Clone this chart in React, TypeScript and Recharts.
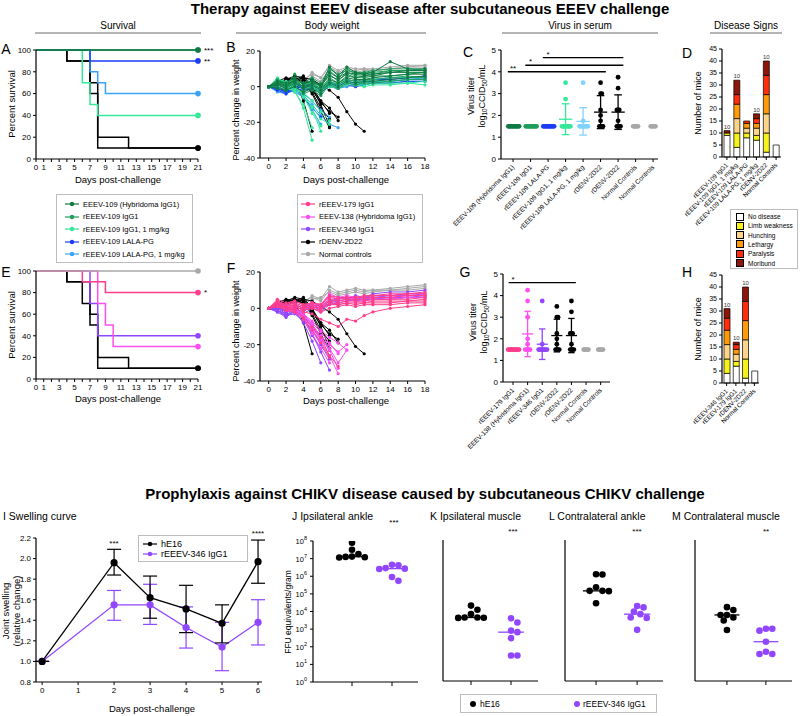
import React from 'react';
import {
  LineChart,
  Line,
  XAxis,
  YAxis,
  ScatterChart,
  Scatter,
  BarChart,
  Bar,
  ReferenceLine,
  ReferenceDot,
  ErrorBar,
  LabelList,
} from 'recharts';

const FONT = '"Liberation Sans", Arial, Helvetica, sans-serif';

const COL = {
  hyb: '#0f7a43',
  r109: '#1f9c5b',
  mint: '#35e89a',
  blue: '#1b3cf2',
  lblue: '#3aa3f5',
  sky: '#80d2ff',
  black: '#000000',
  gray: '#a8a8a8',
  pink: '#ff3d8b',
  mag: '#ff4ff0',
  purple: '#9146ff',
};

// ---------- survival (A, E)
const ALL_DAYS = Array.from({ length: 22 }, (_, i) => i);
const SURV_LABEL_DAYS = [0, 1, 3, 5, 7, 9, 11, 13, 15, 17, 19, 21];

const A_CURVES = [
  { color: COL.black, days: [0, 4, 7, 8, 21], pct: [100, 90, 60, 10, 10] },
  { color: COL.black, days: [0, 4, 7, 8, 12, 21], pct: [100, 90, 70, 20, 10, 10] },
  { color: COL.mint, days: [0, 6, 7, 8, 21], pct: [100, 70, 50, 40, 40] },
  { color: COL.lblue, days: [0, 7, 8, 9, 21], pct: [100, 80, 70, 60, 60] },
  { color: COL.blue, days: [0, 7, 21], pct: [100, 90, 90] },
  { color: COL.r109, days: [0, 21], pct: [100, 100] },
  { color: COL.hyb, days: [0, 21], pct: [100, 100] },
];

const E_CURVES = [
  { color: COL.black, days: [0, 4, 6, 7, 8, 12, 21], pct: [100, 90, 70, 60, 20, 10, 10] },
  { color: COL.black, days: [0, 4, 7, 8, 21], pct: [100, 90, 50, 10, 10] },
  { color: COL.purple, days: [0, 7, 8, 21], pct: [100, 70, 40, 40] },
  { color: COL.mag, days: [0, 8, 9, 10, 21], pct: [100, 70, 50, 30, 30] },
  { color: COL.pink, days: [0, 6, 9, 21], pct: [100, 90, 80, 80] },
  { color: COL.gray, days: [0, 21], pct: [100, 100] },
];

// ---------- body weight (B, F), one array per mouse, aligned to WEIGHT_DAYS
const WEIGHT_DAYS = [0, 1, 2, 3, 4, 5, 6, 7, 8, 9, 10, 11, 12, 14, 16, 18];

const W_DENV = [
  [0, 3, 5, 4, -8, -25],
  [0, 2, 4, 6, 5, -1, -10, -22],
  [0, 1, 3, 5, 4, -3, -12, -18],
  [0, 2, 4, 4, 6, 0, -8, -15],
  [0, 1, 2, 4, 3, -2, -9, -14, -17],
  [0, 1, 2, 3, 5, 4, 1, -2, -6, -14, -21, -25],
  [0, 2, 4, 5, 3, -4, -14, -23],
  [0, 1, 4, 4, 5, -1, -8, -12, -19],
];
const B_GRAY = [
  [0, 2, 1, 4, 3, 8, 5, 12, 9, 11, 10, 10, 10, 11, 12, 12],
  [0, 1, 2, 3, 2, 6, 3, 10, 7, 9, 8, 9, 9, 10, 11, 11],
  [0, 2, 3, 5, 4, 7, 5, 11, 8, 10, 9, 10, 9, 10, 11, 12],
];
const B_BLUE = [
  [0, -2, -4, -1, -2, -1, -3, 0, -1, 1, 0, 1, 2, 2, 3, 3],
  [0, 1, -1, 2, 0, 1, -1, 3, 1, 4, 3, 3, 4, 5, 5, 6],
  [0, -1, -3, 0, -1, 0, -2, 1, 0, 2, 1, 2, 3, 3, 4, 4],
  [0, 0, -2, 1, -1, 1, -2, 2, 1, 3, 2, 3, 4, 4, 5, 5],
  [0, -1, -3, -2, -6, -12, -17],
];
const B_LBLUE = [
  [0, -3, -4, -2, -3, -1, -3, 0, -1, 0, 1, 1, 2, 2, 3, 3],
  [0, 0, -2, 0, -1, 0, -1, 2, 0, 2, 2, 2, 3, 3, 4, 5],
  [0, -2, -3, -2, -5, -10, -16, -21, -23],
  [0, -1, -2, -3, -6, -13, -21],
  [0, -2, -3, -1, -4, -8, -13, -17],
];
const B_MINT = [
  [0, 5, 2, 4, 1, 2, 0, 3, 1, 3, 2, 2, 3, 3, 4, 4],
  [0, 3, 1, 2, -1, 0, -2, 1, 0, 2, 1, 1, 2, 2, 2, 3],
  [0, 4, 3, 3, 2, 1, -1, 2, 2, 4, 3, 3, 4, 5, 5, 5],
  [0, 2, 0, 1, 0, -1, -3, 0, -1, 1, 1, 0, 1, 1, 2, 1],
  [0, 3, 1, -2, -12, -30],
  [0, 2, 0, -3, -10, -23],
  [0, 4, 2, 0, -4, -12, -25],
  [0, 1, -1, -2, -6, -11, -18, -21],
  [0, 3, 1, 0, -5, -15, -22],
  [0, 2, 0, -1, -3, -8, -14, -19],
];
const B_R109 = [
  [0, 4, 2, 5, 1, 3, 0, 7, 3, 8, 6, 6, 7, 9, 9, 10],
  [0, 1, 0, 3, -2, 0, -3, 3, 1, 4, 3, 4, 4, 5, 6, 5],
  [0, 2, 1, 4, 0, 2, -1, 9, 5, 10, 7, 8, 8, 9, 9, 9],
  [0, 0, -2, 1, -4, -2, -5, 1, -1, 2, 1, 2, 2, 3, 4, 4],
  [0, 3, 1, 7, 2, 5, 2, 10, 7, 9, 8, 8, 9, 10, 10, 9],
  [0, 1, 0, 2, -1, 1, -1, 5, 2, 6, 5, 5, 6, 6, 7, 8],
];
const B_HYB = [
  [0, 2, 1, 3, 0, 2, 1, 6, 4, 7, 5, 6, 6, 8, 9, 9],
  [0, 3, 2, 5, 1, 4, 0, 11, 6, 11, 8, 7, 8, 14, 10, 10],
  [0, 1, -1, 2, -1, 1, -2, 4, 2, 5, 4, 4, 5, 6, 7, 7],
  [0, -1, -2, 0, -3, -1, -4, 2, 0, 3, 2, 3, 3, 4, 5, 6],
  [0, 2, 0, 4, 2, 3, 1, 8, 5, 8, 7, 7, 7, 8, 8, 8],
];

const F_GRAY = [
  [0, 1, 2, 4, 3, 7, 5, 12, 9, 10, 11, 10, 10, 11, 12, 13],
  [0, 2, 1, 3, 4, 6, 4, 10, 8, 9, 10, 9, 10, 10, 11, 12],
  [0, 1, 3, 4, 2, 5, 6, 9, 7, 8, 9, 8, 9, 10, 10, 11],
];
const F_PURPLE = [
  [0, -1, -4, 0, -2, 2, 0, 3, 6, 5, 7, 6, 8, 9, 9, 10],
  [0, 1, -2, 2, 0, 3, 1, 4, 5, 6, 5, 6, 6, 7, 7, 8],
  [0, -2, -5, -1, -3, 0, -2, 2, 3, 4, 5, 5, 5, 6, 6, 7],
  [0, 0, -3, 1, -1, 1, -1, 3, 4, 5, 4, 5, 5, 5, 6, 6],
  [0, -1, -3, -2, -8, -18, -30],
  [0, 0, -2, -1, -5, -14, -24, -34],
  [0, -1, -4, -3, -7, -12, -20, -28],
  [0, 1, -2, 0, -3, -9, -16, -23],
  [0, -2, -4, -2, -6, -15, -22],
  [0, 0, -1, 0, -4, -10, -17],
];
const F_MAG = [
  [0, 3, 1, 2, 0, 2, 1, 7, 5, 6, 5, 5, 6, 6, 7, 7],
  [0, 2, 0, 1, -1, 1, 0, 5, 4, 5, 4, 4, 5, 5, 6, 6],
  [0, 4, 2, 3, 1, 3, 2, 8, 6, 7, 6, 6, 7, 7, 8, 8],
  [0, 2, 0, -1, -6, -12, -18, -26, -36],
  [0, 1, -1, -2, -4, -9, -15, -23, -33],
  [0, 3, 1, 0, -3, -8, -13, -19, -25],
  [0, 2, 1, -1, -5, -11, -17, -22, -30, -23],
  [0, 1, 0, -2, -5, -10, -15, -20, -24, -20],
  [0, 2, 0, -1, -3, -7, -12, -16, -19, -23],
  [0, 3, 2, 0, -6, -14, -22, -30],
];
const F_PINK = [
  [0, 3, 2, 3, 1, 2, 1, 5, 4, 5, 5, 5, 6, 6, 7, 7],
  [0, 4, 2, 4, 2, 3, 2, 6, 5, 6, 6, 6, 7, 7, 8, 8],
  [0, 2, 1, 2, 0, 1, 0, 4, 3, 4, 4, 4, 5, 5, 5, 6],
  [0, 1, 0, 1, -1, 0, -1, 3, 2, 3, 3, 3, 4, 4, 4, 5],
  [0, 3, 1, 2, 0, 1, 0, 2, 2, 3, 2, 3, 3, 3, 4, 4],
  [0, 2, 0, 1, -1, 0, -2, 0, 1, 2, 1, 2, 2, 2, 3, 3],
  [0, 5, 3, 4, 2, 3, 2, 7, 6, 6, 6, 7, 7, 8, 8, 9],
  [0, 1, -1, 0, -2, -3, -6, -8, -10, -6, -7, -4, -2, 0, 1, 2],
  [0, 2, 0, -1, -5, -10, -16, -26, -32],
  [0, 1, -1, -2, -6, -12, -19, -27],
];

// ---------- virus in serum (C, G)
const C_LABELS = [
  'EEEV-109 (Hybridoma IgG1)',
  'rEEEV-109 IgG1',
  'rEEEV-109 LALA-PG',
  'rEEEV-109 IgG1, 1 mg/kg',
  'rEEEV-109 LALA-PG, 1 mg/kg',
  'rDENV-2D22',
  'rDENV-2D22',
  'Normal Controls',
  'Normal Controls',
];
const C_COLORS = [COL.hyb, COL.r109, COL.blue, COL.mint, COL.sky, COL.black, COL.black, COL.gray, COL.gray];
const C_VALUES = [
  [1.5, 1.5, 1.5, 1.5, 1.5, 1.5, 1.5, 1.5, 1.5, 1.5],
  [1.5, 1.5, 1.5, 1.5, 1.5, 1.5, 1.5, 1.5, 1.5, 1.5],
  [1.5, 1.5, 1.5, 1.5, 1.5, 1.5, 1.5, 1.5, 1.5, 1.5],
  [3.5, 2.75, 1.5, 1.5, 1.5, 1.5, 1.5, 1.5, 1.5, 1.5],
  [3.5, 1.75, 1.5, 1.5, 1.5, 1.5, 1.5, 1.5, 1.5, 1.5],
  [3.5, 3.0, 3.0, 2.25, 2.0, 1.75, 1.5, 1.5, 1.5, 1.5],
  [3.75, 3.25, 2.25, 2.25, 2.25, 1.75, 1.5, 1.5, 1.5, 1.5],
  [1.5, 1.5, 1.5, 1.5, 1.5],
  [1.5, 1.5, 1.5, 1.5, 1.5],
];
const C_SIG = [
  { from: 0, to: 5, y: 4.0, label: '**' },
  { from: 1, to: 6, y: 4.3, label: '*' },
  { from: 2, to: 6, y: 4.65, label: '*' },
];

const G_LABELS = [
  'rEEEV-179 IgG1',
  'EEEV-138 (Hybridoma IgG1)',
  'rEEEV-346 IgG1',
  'rDENV-2D22',
  'rDENV-2D22',
  'Normal Controls',
  'Normal Controls',
];
const G_COLORS = [COL.pink, COL.mag, COL.purple, COL.black, COL.black, COL.gray, COL.gray];
const G_VALUES = [
  [1.5, 1.5, 1.5, 1.5, 1.5, 1.5, 1.5, 1.5, 1.5, 1.5],
  [4.25, 3.75, 3.0, 2.0, 1.75, 1.5, 1.5, 1.5, 1.5, 1.5],
  [3.75, 1.75, 1.5, 1.5, 1.5, 1.5, 1.5, 1.5, 1.5, 1.5],
  [3.5, 3.0, 3.0, 2.25, 2.0, 1.75, 1.5, 1.5, 1.5, 1.5],
  [3.75, 3.25, 2.25, 2.25, 2.25, 1.75, 1.5, 1.5, 1.5, 1.5],
  [1.5, 1.5, 1.5, 1.5, 1.5],
  [1.5, 1.5, 1.5, 1.5, 1.5],
];
const G_SIG = [{ from: 0, to: 4, y: 4.6, label: '*' }];

// ---------- disease signs (D, H)
const SIGN_KEYS = ['nd', 'lw', 'hu', 'le', 'pa', 'mo'];
const SIGN_NAMES = ['No disease', 'Limb weakness', 'Hunching', 'Lethargy', 'Paralysis', 'Moribund'];
const SIGN_COLORS = ['#ffffff', '#f6f21c', '#fdd48a', '#ff9b0a', '#ff2d0c', '#8e150a'];

const D_CATS = ['rEEEV-109 IgG1', 'rEEEV-109 IgG1, 1 mg/kg', 'rEEEV-109 LALA-PG', 'rEEEV-109 LALA-PG, 1 mg/kg', 'rDENV-2D22', 'Normal Controls'];
const D_NODIS = [9, 4, 8, 7, 2, 5];
const D_LIMB = [1, 6, 2, 2, 8, 0];
const D_HUNCH = [0, 6, 2, 3, 8, 0];
const D_LETH = [0, 6, 2, 2, 8, 0];
const D_PARA = [0, 4, 1, 2, 8, 0];
const D_MORI = [1, 6, 0, 2, 6, 0];
const D_N = [10, 10, 10, 10, 10, 5];

const H_CATS = ['rEEEV-346 IgG1', 'rEEEV-179 IgG1', 'rDENV-2D22', 'Normal Controls'];
const H_NODIS = [4, 7, 2, 5];
const H_LIMB = [6, 2, 8, 0];
const H_HUNCH = [6, 3, 8, 0];
const H_LETH = [6, 2, 8, 0];
const H_PARA = [5, 2, 8, 0];
const H_MORI = [4, 1, 6, 0];
const H_N = [10, 10, 10, 5];

// ---------- swelling (I)
const I_DAYS = [0, 2, 3, 4, 5, 6];
const HE16_MEAN = [1.0, 1.96, 1.62, 1.51, 1.37, 1.97];
const HE16_LO = [1.0, 1.84, 1.42, 1.28, 1.18, 1.76];
const HE16_HI = [1.0, 2.09, 1.83, 1.74, 1.55, 2.18];
const R346_MEAN = [1.0, 1.55, 1.55, 1.33, 1.14, 1.38];
const R346_LO = [1.0, 1.4, 1.36, 1.13, 0.91, 1.16];
const R346_HI = [1.0, 1.69, 1.75, 1.53, 1.38, 1.6];

// ---------- viral burden (J-M), FFU equivalents/gram
const J_HE16 = [8e7, 3.2e7, 1.8e7, 1.3e7, 1.2e7, 1.25e7, 1.15e7];
const J_R346 = [4.5e6, 4.2e6, 2.9e6, 2.7e6, 2.6e6, 9e5, 5.5e5];
const K_HE16 = [1.9e4, 1.1e4, 6.2e3, 4e3, 4e3, 3.9e3, 3.8e3];
const K_R346 = [3.6e3, 2.1e3, 7.2e2, 5.9e2, 2.7e2, 28, 28];
const L_HE16 = [1.15e6, 1.1e6, 2.1e5, 1.3e5, 1.3e5, 1.25e5, 2.6e4];
const L_R346 = [1.8e4, 1.5e4, 8.7e3, 6.2e3, 4e3, 3.8e3, 8e2];
const M_HE16 = [1.55e4, 1.07e4, 5.6e3, 5.6e3, 4e3, 2.7e3, 7.9e2];
const M_R346 = [9.3e2, 9.3e2, 7.2e2, 1.7e2, 46, 34, 34];
const DECADES = [1, 10, 100, 1e3, 1e4, 1e5, 1e6, 1e7, 1e8];

// ---------- helpers
const fr = (x0: number, y0: number, x1: number, y1: number, yw: number, xh: number, mt = 6, mr = 6) => ({
  pos: { position: 'absolute' as const, left: x0 - yw, top: y0 - mt },
  width: x1 - x0 + yw + mr,
  height: y1 - y0 + mt + xh,
  margin: { top: mt, right: mr, bottom: 0, left: 0 },
  yw,
  xh,
  pw: x1 - x0,
  ph: y1 - y0,
});
type Frame = ReturnType<typeof fr>;

const AX = {
  stroke: '#000',
  tickSize: 3,
  tick: { fontSize: 8, fill: '#000' },
  axisLine: { stroke: '#000', strokeWidth: 1.2 },
  tickLine: { stroke: '#000', strokeWidth: 1 },
};

// spread dots sideways so they don't sit on top of each other (pixel units)
function swarm(vals: number[], pxY: number, minDist: number, step: number): number[] {
  const order = vals.map((_, i) => i).sort((a, b) => vals[b] - vals[a]);
  const placed: { x: number; y: number }[] = [];
  const out = vals.map(() => 0);
  for (const i of order) {
    const y = vals[i] * pxY;
    for (let k = 0; k < 60; k++) {
      const dx = (k % 2 === 1 ? 1 : -1) * Math.ceil(k / 2) * step;
      if (placed.every((p) => Math.hypot(p.x - dx, p.y - y) >= minDist - 1e-6)) {
        out[i] = dx;
        placed.push({ x: dx, y });
        break;
      }
    }
  }
  return out;
}

const mean = (a: number[]) => a.reduce((s, v) => s + v, 0) / a.length;
const sd = (a: number[]) => {
  const m = mean(a);
  return Math.sqrt(a.reduce((s, v) => s + (v - m) * (v - m), 0) / (a.length - 1));
};
const median = (a: number[]) => [...a].sort((x, y) => x - y)[Math.floor(a.length / 2)];

const T = ({ x, y, s = 9, b = false, a = 'middle', r = 0, c = '#000', children }: any) => (
  <div
    style={{
      position: 'absolute',
      left: x,
      top: y,
      fontSize: s,
      fontWeight: b ? 'bold' : 'normal',
      color: c,
      whiteSpace: 'nowrap',
      lineHeight: 1,
      transform: `translate(${a === 'middle' ? '-50%' : a === 'end' ? '-100%' : '0'}, -50%) rotate(${r}deg)`,
    }}
  >
    {children}
  </div>
);

const HLine = ({ x0, x1, y }: any) => (
  <div style={{ position: 'absolute', left: x0, top: y, width: x1 - x0, height: 2, background: '#b4b4b4' }} />
);

const rotTick = (labels: (v: any) => string, fs: number) => (p: any) => (
  <g transform={`translate(${p.x},${p.y + 2}) rotate(-45)`}>
    <text x={0} y={0} dy="0.35em" textAnchor="end" fontSize={fs} fill="#000">
      {labels(p.payload.value)}
    </text>
  </g>
);

// ---------- panels
function SurvivalPanel({ f, curves }: { f: Frame; curves: typeof A_CURVES }) {
  return (
    <div style={f.pos}>
      <LineChart width={f.width} height={f.height} margin={f.margin}>
        <XAxis
          type="number"
          dataKey="x"
          domain={[0, 21]}
          ticks={ALL_DAYS}
          interval={0}
          height={f.xh}
          tickFormatter={(v: number) => (SURV_LABEL_DAYS.includes(v) ? String(v) : '')}
          {...AX}
        />
        <YAxis type="number" domain={[0, 100]} ticks={[0, 20, 40, 60, 80, 100]} interval={0} width={f.yw} {...AX} />
        {curves.map((c, i) => {
          const data = c.days.map((d, j) => ({ x: d, y: c.pct[j] }));
          const n = data.length;
          return (
            <Line
              key={i}
              data={data}
              dataKey="y"
              type="stepAfter"
              stroke={c.color}
              strokeWidth={1.5}
              isAnimationActive={false}
              dot={(p: any) =>
                p.index === n - 1 ? (
                  <circle key={`e${i}`} cx={p.cx} cy={p.cy} r={2.8} fill={c.color} />
                ) : (
                  <g key={`g${i}-${p.index}`} />
                )
              }
            />
          );
        })}
      </LineChart>
    </div>
  );
}

function WeightPanel({ f, groups }: { f: Frame; groups: { color: string; lines: number[][] }[] }) {
  return (
    <div style={f.pos}>
      <LineChart width={f.width} height={f.height} margin={f.margin}>
        <XAxis type="number" dataKey="x" domain={[-1, 18]} ticks={[0, 2, 4, 6, 8, 10, 12, 14, 16, 18]} interval={0} height={f.xh} {...AX} />
        <YAxis type="number" domain={[-40, 20]} ticks={[-40, -20, 0, 20]} interval={0} width={f.yw} {...AX} />
        {groups.map((g, gi) =>
          g.lines.map((w, li) => (
            <Line
              key={`${gi}-${li}`}
              data={w.map((v, j) => ({ x: WEIGHT_DAYS[j], y: v }))}
              dataKey="y"
              stroke={g.color}
              strokeWidth={1}
              dot={{ r: 1.6, fill: g.color, stroke: g.color, strokeWidth: 0 }}
              isAnimationActive={false}
            />
          ))
        )}
      </LineChart>
    </div>
  );
}

function TiterPanel({ f, labels, colors, values, sig, dom }: any) {
  const pxY = f.ph / 5;
  const pxCat = f.pw / (dom[1] - dom[0]);
  return (
    <div style={f.pos}>
      <ScatterChart width={f.width} height={f.height} margin={f.margin}>
        <XAxis
          type="number"
          dataKey="x"
          domain={dom}
          ticks={labels.map((_: string, i: number) => i)}
          interval={0}
          height={f.xh}
          {...AX}
          tick={rotTick((v) => labels[v], 6.5)}
        />
        <YAxis type="number" dataKey="y" domain={[0, 5]} ticks={[0, 1, 2, 3, 4, 5]} interval={0} width={f.yw} {...AX} />
        {values.map((vals: number[], i: number) => {
          const off = swarm(vals, pxY, 1.2, 1.2);
          const data = vals.map((v, j) => ({ x: i + off[j] / pxCat, y: v }));
          return (
            <Scatter
              key={i}
              data={data}
              fill={colors[i]}
              isAnimationActive={false}
              shape={(p: any) => <circle cx={p.cx} cy={p.cy} r={2.4} fill={colors[i]} />}
            />
          );
        })}
        {values.map((vals: number[], i: number) => {
          const s = sd(vals);
          if (s === 0) return null;
          const m = mean(vals);
          return [
            <ReferenceLine key={`m${i}`} segment={[{ x: i - 0.38, y: m }, { x: i + 0.38, y: m }]} stroke={colors[i]} strokeWidth={1.3} />,
            <ReferenceLine key={`v${i}`} segment={[{ x: i, y: m - s }, { x: i, y: m + s }]} stroke={colors[i]} strokeWidth={1.3} />,
            <ReferenceLine key={`t${i}`} segment={[{ x: i - 0.22, y: m + s }, { x: i + 0.22, y: m + s }]} stroke={colors[i]} strokeWidth={1.3} />,
            <ReferenceLine key={`b${i}`} segment={[{ x: i - 0.22, y: m - s }, { x: i + 0.22, y: m - s }]} stroke={colors[i]} strokeWidth={1.3} />,
          ];
        })}
        {sig.map((s: any, i: number) => (
          <ReferenceLine key={`s${i}`} segment={[{ x: s.from - 0.3, y: s.y }, { x: s.to + 0.3, y: s.y }]} stroke="#000" strokeWidth={1.4} />
        ))}
        {sig.map((s: any, i: number) => (
          <ReferenceDot
            key={`d${i}`}
            x={s.from}
            y={s.y}
            r={0}
            fill="none"
            stroke="none"
            label={{ value: s.label, position: 'top', fontSize: 8, fill: '#000', offset: 1 }}
          />
        ))}
      </ScatterChart>
    </div>
  );
}

function SignsPanel({ f, cats, cols, n }: any) {
  const data = cats.map((name: string, i: number) => {
    const row: any = { name, n: n[i] };
    SIGN_KEYS.forEach((k, j) => (row[k] = cols[j][i]));
    return row;
  });
  return (
    <div style={f.pos}>
      <BarChart width={f.width} height={f.height} margin={f.margin} data={data} barCategoryGap="30%">
        <XAxis dataKey="name" type="category" interval={0} height={f.xh} {...AX} tick={rotTick((v) => v, 6.3)} />
        <YAxis type="number" domain={[0, 45]} ticks={[0, 5, 10, 15, 20, 25, 30, 35, 40, 45]} interval={0} width={f.yw} {...AX} tick={{ fontSize: 7, fill: '#000' }} />
        {SIGN_KEYS.map((k, i) => (
          <Bar key={k} dataKey={k} stackId="s" fill={SIGN_COLORS[i]} stroke="#000" strokeWidth={0.7} barSize={6} isAnimationActive={false}>
            {i === SIGN_KEYS.length - 1 && <LabelList dataKey="n" position="top" fontSize={6} fill="#333" offset={2} />}
          </Bar>
        ))}
      </BarChart>
    </div>
  );
}

function SwellingPanel({ f }: { f: Frame }) {
  const mk = (m: number[], lo: number[], hi: number[]) =>
    I_DAYS.map((d, i) => ({ x: d, y: m[i], e: [m[i] - lo[i], hi[i] - m[i]] }));
  const series = [
    { color: COL.purple, data: mk(R346_MEAN, R346_LO, R346_HI) },
    { color: COL.black, data: mk(HE16_MEAN, HE16_LO, HE16_HI) },
  ];
  return (
    <div style={f.pos}>
      <LineChart width={f.width} height={f.height} margin={f.margin}>
        <XAxis type="number" dataKey="x" domain={[-0.17, 6.11]} ticks={[0, 1, 2, 3, 4, 5, 6]} interval={0} height={f.xh} {...AX} />
        <YAxis
          type="number"
          domain={[0.8, 2.2]}
          ticks={[0.8, 1.0, 1.2, 1.4, 1.6, 1.8, 2.0, 2.2]}
          interval={0}
          width={f.yw}
          tickFormatter={(v: number) => v.toFixed(1)}
          {...AX}
        />
        {series.map((s, i) => (
          <Line
            key={i}
            data={s.data}
            dataKey="y"
            stroke={s.color}
            strokeWidth={1.3}
            dot={{ r: 3.6, fill: s.color, stroke: s.color, strokeWidth: 0 }}
            isAnimationActive={false}
          >
            <ErrorBar dataKey="e" width={7} stroke={s.color} strokeWidth={1.2} direction="y" />
          </Line>
        ))}
      </LineChart>
    </div>
  );
}

const expTick = (p: any) => {
  const e = Math.round(Math.log10(p.payload.value));
  return (
    <text x={p.x - 1} y={p.y + 3} textAnchor="end" fontSize={7.5} fill="#000">
      <tspan>10</tspan>
      <tspan dy={-4} fontSize={5.5}>
        {e}
      </tspan>
    </text>
  );
};

function FfuPanel({ f, groups, dom, labels }: any) {
  const pxDec = f.ph / 8;
  const pxCat = f.pw / (dom[1] - dom[0]);
  return (
    <div style={f.pos}>
      <ScatterChart width={f.width} height={f.height} margin={f.margin}>
        <XAxis type="number" dataKey="x" domain={dom} ticks={[0, 1]} interval={0} height={f.xh} {...AX} tickSize={4} tickFormatter={() => ''} />
        <YAxis
          type="number"
          dataKey="y"
          scale="log"
          domain={[1, 1e8]}
          ticks={DECADES}
          interval={0}
          allowDataOverflow
          width={f.yw}
          {...AX}
          tick={labels ? expTick : false}
        />
        {groups.map((g: any, i: number) => {
          const logs = g.vals.map((v: number) => Math.log10(v));
          const off = swarm(logs, pxDec, 6.4, 3.2);
          const data = g.vals.map((v: number, j: number) => ({ x: i + off[j] / pxCat, y: v }));
          return (
            <Scatter
              key={i}
              data={data}
              fill={g.color}
              isAnimationActive={false}
              shape={(p: any) => <circle cx={p.cx} cy={p.cy} r={3.3} fill={g.color} />}
            />
          );
        })}
        {groups.map((g: any, i: number) => {
          const m = median(g.vals);
          return <ReferenceLine key={`m${i}`} segment={[{ x: i - 0.32, y: m }, { x: i + 0.32, y: m }]} stroke={g.color} strokeWidth={1.3} />;
        })}
      </ScatterChart>
    </div>
  );
}

// ---------- legends
const LineLegend = ({ x, y, w, h, items, rowY, fs = 7.5, textX }: any) => (
  <div style={{ position: 'absolute', left: x, top: y, width: w, height: h, border: '1px solid #bdbdbd', background: '#fff', boxSizing: 'border-box' }}>
    {items.map((it: any, i: number) => (
      <div
        key={i}
        style={{
          position: 'absolute',
          left: textX - x - 19,
          top: rowY[i] - y - 6,
          height: 10,
          display: 'flex',
          alignItems: 'center',
          whiteSpace: 'nowrap',
          fontSize: fs,
        }}
      >
        <svg width={14} height={8} style={{ marginRight: 4 }}>
          <line x1={0} y1={4} x2={14} y2={4} stroke={it.color} strokeWidth={1.2} />
          <circle cx={7} cy={4} r={2.2} fill={it.color} />
        </svg>
        {it.label}
      </div>
    ))}
  </div>
);

const SignLegend = ({ x, y }: any) => (
  <div style={{ position: 'absolute', left: x, top: y, width: 68, height: 60, border: '1px solid #bdbdbd', background: '#fff', boxSizing: 'border-box' }}>
    {SIGN_NAMES.map((nm, i) => (
      <div key={nm} style={{ position: 'absolute', left: 5, top: 2 + i * 9.3, height: 9, display: 'flex', alignItems: 'center', fontSize: 6.5, whiteSpace: 'nowrap' }}>
        <span style={{ width: 6, height: 6, border: '1px solid #000', background: SIGN_COLORS[i], marginRight: 4, display: 'inline-block' }} />
        {nm}
      </div>
    ))}
  </div>
);

const Log10Label = () => (
  <span>
    log<span style={{ fontSize: '0.7em', position: 'relative', top: '0.3em' }}>10</span>CCID
    <span style={{ fontSize: '0.7em', position: 'relative', top: '0.3em' }}>50</span>/mL
  </span>
);

export default function App() {
  const fA = fr(36, 50, 198, 159, 22, 14);
  const fE = fr(36, 271, 198, 379, 22, 14);
  const fB = fr(260, 51, 425, 158, 22, 14);
  const fF = fr(260, 272, 425, 381, 22, 14);
  const fC = fr(501, 50, 658, 159, 14, 72);
  const fG = fr(503, 274, 610, 382, 14, 72);
  const fD = fr(722, 49, 781, 157, 16, 62);
  const fH = fr(722, 275, 759, 383, 16, 62);
  const fI = fr(36, 538, 262, 682, 22, 14);
  const fJ = fr(313, 541, 418, 682, 22, 10);
  const fK = fr(443, 540, 538, 681, 6, 10);
  const fL = fr(565, 540, 663, 681, 6, 10);
  const fM = fr(695, 540, 792, 681, 6, 10);

  const bGroups = [
    { color: COL.gray, lines: B_GRAY },
    { color: COL.black, lines: W_DENV },
    { color: COL.lblue, lines: B_LBLUE },
    { color: COL.blue, lines: B_BLUE },
    { color: COL.mint, lines: B_MINT },
    { color: COL.r109, lines: B_R109 },
    { color: COL.hyb, lines: B_HYB },
  ];
  const fGroups = [
    { color: COL.gray, lines: F_GRAY },
    { color: COL.black, lines: W_DENV },
    { color: COL.purple, lines: F_PURPLE },
    { color: COL.mag, lines: F_MAG },
    { color: COL.pink, lines: F_PINK },
  ];

  return (
    <div style={{ position: 'absolute', left: 0, top: 0, width: 800, height: 716, background: '#fff', fontFamily: FONT, overflow: 'hidden' }}>
      <style>{'.recharts-surface{overflow:visible}'}</style>

      <T x={430} y={8} s={15} b>
        Therapy against EEEV disease after subcutaneous EEEV challenge
      </T>
      <T x={118} y={26} s={10}>Survival</T>
      <HLine x0={35} x1={201} y={32} />
      <T x={332} y={26} s={10}>Body weight</T>
      <HLine x0={236} x1={426} y={32} />
      <T x={580} y={26} s={10}>Virus in serum</T>
      <HLine x0={502} x1={658} y={32} />
      <T x={746} y={26} s={10}>Disease Signs</T>
      <HLine x0={710} x1={782} y={32} />

      <SurvivalPanel f={fA} curves={A_CURVES} />
      <SurvivalPanel f={fE} curves={E_CURVES} />
      <WeightPanel f={fB} groups={bGroups} />
      <WeightPanel f={fF} groups={fGroups} />
      <TiterPanel f={fC} labels={C_LABELS} colors={C_COLORS} values={C_VALUES} sig={C_SIG} dom={[-0.69, 8.28]} />
      <TiterPanel f={fG} labels={G_LABELS} colors={G_COLORS} values={G_VALUES} sig={G_SIG} dom={[-0.685, 6.64]} />
      <SignsPanel f={fD} cats={D_CATS} cols={[D_NODIS, D_LIMB, D_HUNCH, D_LETH, D_PARA, D_MORI]} n={D_N} />
      <SignsPanel f={fH} cats={H_CATS} cols={[H_NODIS, H_LIMB, H_HUNCH, H_LETH, H_PARA, H_MORI]} n={H_N} />

      {/* panel letters */}
      <T x={6} y={49} s={14}>A</T>
      <T x={231} y={47} s={14}>B</T>
      <T x={468} y={52} s={14}>C</T>
      <T x={687} y={53} s={14}>D</T>
      <T x={6} y={272} s={14}>E</T>
      <T x={231} y={268} s={14}>F</T>
      <T x={465} y={272} s={14}>G</T>
      <T x={687} y={272} s={14}>H</T>

      {/* axis titles */}
      <T x={12} y={104} s={9.5} r={-90}>Percent survival</T>
      <T x={118} y={180} s={9.5}>Days post-challenge</T>
      <T x={12} y={325} s={9.5} r={-90}>Percent survival</T>
      <T x={118} y={399} s={9.5}>Days post-challenge</T>
      <T x={236} y={110} s={9} r={-90}>Percent change in weight</T>
      <T x={346} y={180} s={9.5}>Days post-challenge</T>
      <T x={236} y={331} s={9} r={-90}>Percent change in weight</T>
      <T x={346} y={401} s={9.5}>Days post-challenge</T>
      <T x={471} y={96} s={9} r={-90}>Virus titer</T>
      <T x={482} y={96} s={9} r={-90}><Log10Label /></T>
      <T x={473} y={322} s={9} r={-90}>Virus titer</T>
      <T x={484} y={322} s={9} r={-90}><Log10Label /></T>
      <T x={698} y={103} s={9} r={-90}>Number of mice</T>
      <T x={698} y={329} s={9} r={-90}>Number of mice</T>

      {/* stars */}
      <T x={204} y={51} s={8} a="start">***</T>
      <T x={204} y={62} s={8} a="start">**</T>
      <T x={204} y={293} s={8} a="start">*</T>

      <LineLegend
        x={56}
        y={194}
        w={137}
        h={69}
        textX={83}
        rowY={[204, 216.5, 229, 241.5, 254]}
        items={[
          { color: COL.hyb, label: 'EEEV-109 (Hybridoma IgG1)' },
          { color: COL.r109, label: 'rEEEV-109 IgG1' },
          { color: COL.mint, label: 'rEEEV-109 IgG1, 1 mg/kg' },
          { color: COL.blue, label: 'rEEEV-109 LALA-PG' },
          { color: COL.lblue, label: 'rEEEV-109 LALA-PG, 1 mg/kg' },
        ]}
      />
      <LineLegend
        x={297}
        y={194}
        w={126}
        h={69}
        textX={319}
        rowY={[204, 216.5, 229, 241.5, 254]}
        items={[
          { color: COL.pink, label: 'rEEEV-179 IgG1' },
          { color: COL.mag, label: 'EEEV-138 (Hybridoma IgG1)' },
          { color: COL.purple, label: 'rEEEV-346 IgG1' },
          { color: COL.black, label: 'rDENV-2D22' },
          { color: COL.gray, label: 'Normal controls' },
        ]}
      />
      <SignLegend x={730} y={209} />

      {/* CHIKV section */}
      <T x={425} y={493} s={15} b>
        Prophylaxis against CHIKV disease caused by subcutaneous CHIKV challenge
      </T>
      <T x={3} y={516} s={10.5} a="start">I Swelling curve</T>
      <T x={292} y={516} s={10.5} a="start">J Ipsilateral ankle</T>
      <T x={430} y={516} s={10.5} a="start">K Ipsilateral muscle</T>
      <T x={549} y={516} s={10.5} a="start">L Contralateral ankle</T>
      <T x={672} y={516} s={10.5} a="start">M Contralateral muscle</T>

      <SwellingPanel f={fI} />
      <FfuPanel f={fJ} dom={[-0.975, 1.65]} labels groups={[{ color: COL.black, vals: J_HE16 }, { color: COL.purple, vals: J_R346 }]} />
      <FfuPanel f={fK} dom={[-0.7, 1.675]} groups={[{ color: COL.black, vals: K_HE16 }, { color: COL.purple, vals: K_R346 }]} />
      <FfuPanel f={fL} dom={[-0.756, 1.63]} groups={[{ color: COL.black, vals: L_HE16 }, { color: COL.purple, vals: L_R346 }]} />
      <FfuPanel f={fM} dom={[-0.82, 1.67]} groups={[{ color: COL.black, vals: M_HE16 }, { color: COL.purple, vals: M_R346 }]} />

      <T x={6} y={611} s={9.5} r={-90}>Joint swelling</T>
      <T x={17} y={611} s={9.5} r={-90}>(relative change)</T>
      <T x={152} y={709} s={9.5}>Days post-challenge</T>
      <T x={288} y={612} s={8.5} r={-90}>FFU equivalents/gram</T>

      <T x={114} y={544} s={8}>***</T>
      <T x={258} y={534} s={8}>****</T>
      <T x={394} y={523} s={8}>***</T>
      <T x={513} y={532} s={8}>***</T>
      <T x={637} y={532} s={8}>***</T>
      <T x={766} y={532} s={8}>**</T>

      <LineLegend
        x={138}
        y={535}
        w={110}
        h={27}
        textX={161}
        fs={9}
        rowY={[544, 554]}
        items={[
          { color: COL.black, label: 'hE16' },
          { color: COL.purple, label: 'rEEEV-346 IgG1' },
        ]}
      />
      <div style={{ position: 'absolute', left: 460, top: 694, width: 197, height: 19, border: '1px solid #bdbdbd', background: '#fff', boxSizing: 'border-box', fontSize: 8.5 }}>
        <span style={{ position: 'absolute', left: 9, top: 4, display: 'flex', alignItems: 'center' }}>
          <span style={{ width: 6, height: 6, borderRadius: 3, background: COL.black, marginRight: 4 }} />
          hE16
        </span>
        <span style={{ position: 'absolute', left: 113, top: 4, display: 'flex', alignItems: 'center' }}>
          <span style={{ width: 6, height: 6, borderRadius: 3, background: COL.purple, marginRight: 3 }} />
          rEEEV-346 IgG1
        </span>
      </div>
    </div>
  );
}
